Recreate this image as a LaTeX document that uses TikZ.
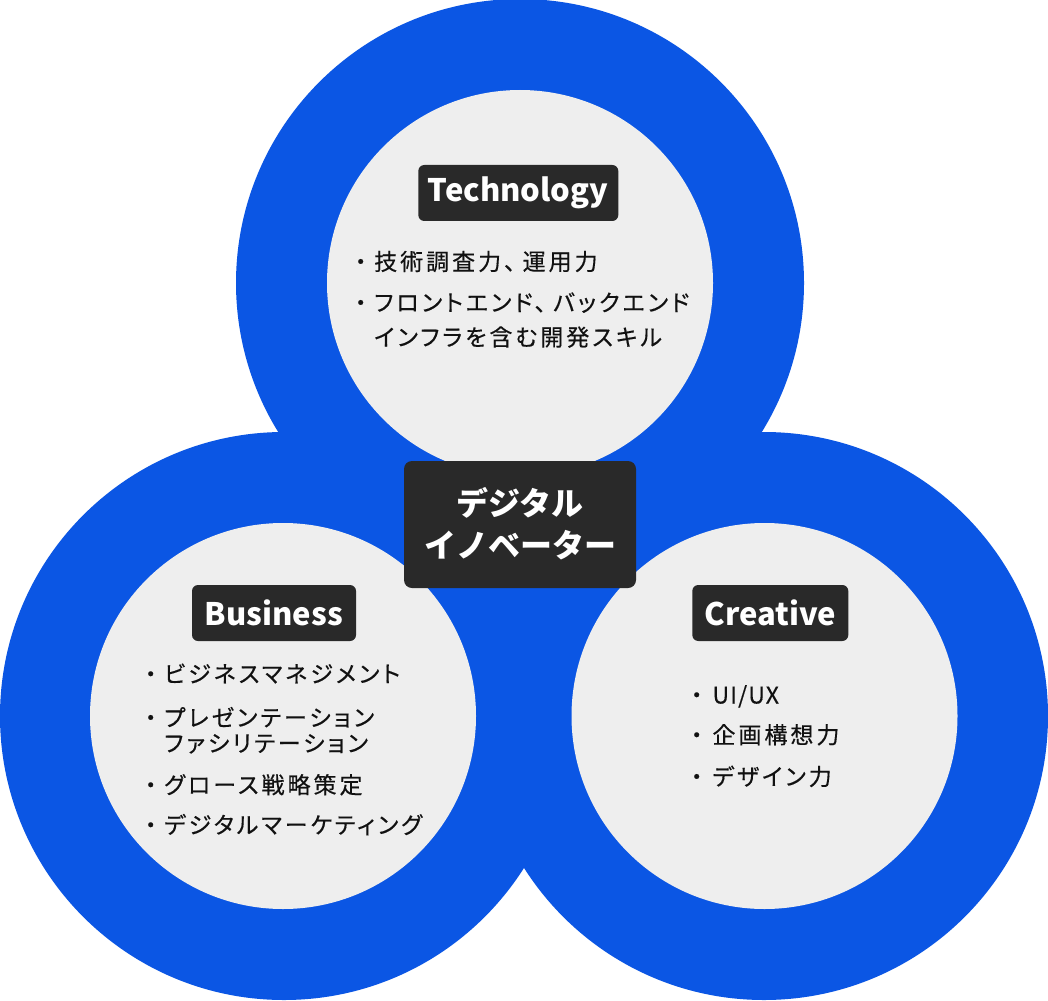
\documentclass[tikz,border=0pt]{standalone}
\usepackage{fontspec}
\newfontfamily\jp[RawFeature=+palt]{Noto Sans CJK JP}
\newfontfamily\jpdot[FakeBold=0.6]{Noto Sans CJK JP}
\newfontfamily\jpfull{Noto Sans CJK JP}
\newfontfamily\jpls[RawFeature=+palt,LetterSpace=13,FakeBold=0.4]{Noto Sans CJK JP}
\newfontfamily\jplat[LetterSpace=5,FakeBold=0.4]{Noto Sans CJK JP}
\definecolor{ringblue}{RGB}{11,86,228}
\definecolor{coregray}{RGB}{238,238,238}
\definecolor{tagdark}{RGB}{41,41,41}
\definecolor{textblack}{RGB}{17,17,17}
\begin{document}
\begin{tikzpicture}[x=1pt,y=-1pt,
  bluering/.style={circle,fill=ringblue,minimum size=568pt,inner sep=0},
  grayring/.style={circle,fill=coregray,minimum size=386pt,inner sep=0},
  labelbox/.style={fill=tagdark,rounded corners=6pt,text=white,minimum height=56pt,inner sep=0,font=\jp\bfseries\fontsize{31}{31}\selectfont},
  listline/.style={anchor=west,inner sep=0,text=textblack,font=\jpls\fontsize{23}{23}\selectfont,text height=20pt,text depth=3pt},
  bulletmark/.style={inner sep=0,text=textblack,font=\jpdot\fontsize{23}{23}\selectfont,text height=20pt,text depth=3pt}]
\useasboundingbox (0,0) rectangle (1048,1000);
\fill[white] (0,0) rectangle (1048,1000);
% blue rings
\node[bluering] (bt) at (520,283) {};
\node[bluering] (bl) at (284,716) {};
\node[bluering] (br) at (764,716) {};
% gray discs
\node[grayring] (gt) at (520,283) {};
\node[grayring] (gl) at (283,716) {};
\node[grayring] (gr) at (764.5,716) {};
% center box
\node[fill=tagdark,rounded corners=8pt,minimum width=232pt,minimum height=127pt,inner sep=0,text=white,align=center,
  font=\jpfull\bfseries\fontsize{32}{42.5}\selectfont] (hub) at (520,524.5)
  {\rule{0pt}{28.2pt}デジタル\\イノベーター\rule[-3.8pt]{0pt}{3.8pt}};
% label boxes
\node[labelbox,minimum width=200pt] (tech) at (518.3,193) {Technology};
\node[labelbox,minimum width=164pt] (biz) at (274,613) {Business};
\node[labelbox,minimum width=156pt] (cre) at (770.3,613) {Creative};
% Technology list
\node[bulletmark] (tb1) at (360.7,261.7) {・};
\node[listline] (tl1) at (374,261.7) {技術調査力、\kern7pt 運用力};
\node[bulletmark] (tb2) at (360.7,302.7) {・};
\node[listline] (tl2) at (374,302.7) {フロントエンド、\kern7pt バックエンド};
\node[listline] (tl3) at (374,337.3) {インフラを含む開発スキル};
% Business list
\node[bulletmark] (bb1) at (150.7,674) {・};
\node[listline] (bl1) at (164,674) {ビジネスマネジメント};
\node[bulletmark] (bb2) at (150.7,717.7) {・};
\node[listline] (bl2) at (164,717.7) {プレゼンテーション};
\node[listline] (bl3) at (164,743.3) {ファシリテーション};
\node[bulletmark] (bb4) at (150.7,785) {・};
\node[listline] (bl4) at (164,785) {グロース戦略策定};
\node[bulletmark] (bb5) at (150.7,825) {・};
\node[listline] (bl5) at (164,825) {デジタルマーケティング};
% Creative list
\node[bulletmark] (cb1) at (696.7,695) {・};
\node[listline,font=\jplat\fontsize{23}{23}\selectfont] (cl1) at (712.3,695) {UI/UX};
\node[bulletmark] (cb2) at (696.7,735) {・};
\node[listline] (cl2) at (712.3,735) {企画構想力};
\node[bulletmark] (cb3) at (696.7,776.7) {・};
\node[listline] (cl3) at (712.3,776.7) {デザイン力};
\end{tikzpicture}
\end{document}
